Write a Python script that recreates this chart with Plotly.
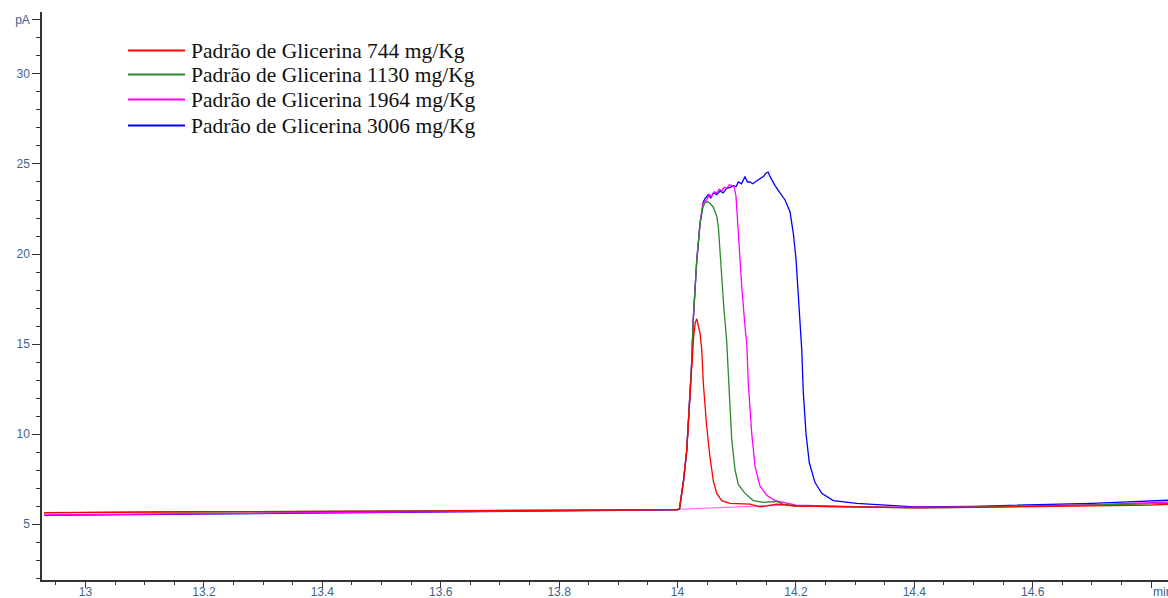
import plotly.graph_objects as go

# ---------------- data ----------------
series_names = [
    "Padrão de Glicerina 744 mg/Kg",
    "Padrão de Glicerina 1130 mg/Kg",
    "Padrão de Glicerina 1964 mg/Kg",
    "Padrão de Glicerina 3006 mg/Kg",
]
series_colors = ["#ff0000", "#2a8a2a", "#ff00ff", "#0000ff"]

red_t = [12.93, 13.0, 13.1, 13.2, 13.3, 13.4, 13.5, 13.6, 13.7, 13.8, 13.9, 13.98, 14.0,
         14.0034, 14.0101, 14.0156, 14.018, 14.021, 14.024, 14.027, 14.030, 14.0325, 14.0345,
         14.038, 14.0409, 14.0436, 14.0493, 14.0549, 14.0605, 14.0662, 14.0747, 14.0887,
         14.1225, 14.1394, 14.1676, 14.2, 14.3, 14.4, 14.5, 14.6, 14.7, 14.8, 14.83]
red_v = [5.62, 5.65, 5.66, 5.68, 5.68, 5.7, 5.72, 5.73, 5.74, 5.76, 5.78, 5.8, 5.8,
         5.85, 7.4, 9.1, 10.4, 11.9, 13.6, 15.3, 16.2, 16.4, 16.1,
         15.6, 14.7, 12.8, 10.4, 8.7, 7.4, 6.7, 6.3, 6.15,
         6.1, 5.95, 6.1, 6.0, 5.95, 5.9, 5.92, 5.95, 6.0, 6.05, 6.1]

green_t = [12.93, 13.0, 13.1, 13.2, 13.3, 13.4, 13.5, 13.6, 13.7, 13.8, 13.9, 13.98, 14.0,
           14.0034, 14.0101, 14.0156, 14.018, 14.021, 14.024, 14.0265, 14.0296, 14.0324,
           14.0351, 14.038, 14.043, 14.0465, 14.051, 14.055, 14.0605, 14.0662, 14.069,
           14.0718, 14.0747, 14.0785, 14.083, 14.0858, 14.0887, 14.0916, 14.0971, 14.1027,
           14.114, 14.128, 14.145, 14.1676, 14.178, 14.2, 14.3, 14.4, 14.5, 14.6, 14.7, 14.8, 14.83]
green_v = [5.63, 5.66, 5.67, 5.68, 5.69, 5.71, 5.72, 5.74, 5.75, 5.77, 5.78, 5.8, 5.8,
           5.85, 7.4, 9.1, 10.4, 11.9, 14.0, 16.3, 18.4, 19.6,
           20.6, 21.7, 22.6, 22.85, 22.9, 22.8, 22.6, 22.1, 21.5,
           20.05, 18.7, 16.9, 15.2, 13.7, 11.5, 9.7, 8.0, 7.2,
           6.7, 6.3, 6.2, 6.25, 6.1, 6.0, 5.95, 5.9, 5.93, 5.98, 6.05, 6.12, 6.15]

magenta_t = [12.93, 13.0, 13.1, 13.2, 13.3, 13.4, 13.5, 13.6, 13.7, 13.8, 13.9, 13.98, 14.0,
             14.0034, 14.0101, 14.0156, 14.018, 14.021, 14.024, 14.0265, 14.0296, 14.0324,
             14.0351, 14.038, 14.043, 14.0493, 14.0535, 14.0578, 14.062, 14.0662, 14.0705,
             14.0747, 14.079, 14.0831, 14.0875, 14.0916, 14.0955, 14.0988, 14.101, 14.1044,
             14.1085, 14.114, 14.117, 14.1196, 14.1253, 14.131, 14.1394, 14.1507, 14.1647,
             14.1788, 14.2, 14.3, 14.4, 14.5, 14.6, 14.7, 14.8, 14.83]
magenta_v = [5.5, 5.53, 5.56, 5.58, 5.6, 5.62, 5.65, 5.68, 5.7, 5.74, 5.77, 5.8, 5.8,
             5.85, 7.4, 9.1, 10.4, 11.9, 14.0, 16.3, 18.4, 19.6,
             20.6, 21.7, 22.8, 23.0, 23.3, 23.2, 23.45, 23.4, 23.6,
             23.5, 23.7, 23.65, 23.85, 23.8, 23.75, 23.2, 21.9, 20.05,
             18.2, 15.95, 15.0, 12.8, 10.05, 8.2, 7.1, 6.6, 6.3,
             6.2, 6.05, 5.97, 5.92, 5.95, 6.0, 6.08, 6.18, 6.22]

blue_t = [12.93, 13.0, 13.05, 13.1, 13.2, 13.3, 13.4, 13.5, 13.6, 13.7, 13.8, 13.9, 13.95, 14.0,
          14.0034, 14.0101, 14.0156, 14.018, 14.021, 14.024, 14.0265, 14.0296, 14.0324,
          14.0351, 14.038, 14.0436, 14.047, 14.052, 14.056, 14.0605, 14.066, 14.0718,
          14.077, 14.0831, 14.089, 14.0943, 14.099, 14.1027, 14.108, 14.114, 14.118,
          14.1225, 14.127, 14.1309, 14.135, 14.1394, 14.145, 14.1495, 14.153, 14.1563,
          14.1647, 14.1731, 14.1816, 14.19, 14.1956, 14.2002, 14.2041, 14.2069, 14.2098,
          14.2125, 14.2171, 14.2226, 14.2323, 14.2436, 14.2632, 14.3027, 14.3477,
          14.4, 14.5, 14.6, 14.65, 14.7, 14.75, 14.8, 14.83]
blue_v = [5.48, 5.5, 5.52, 5.53, 5.56, 5.58, 5.6, 5.63, 5.66, 5.7, 5.73, 5.76, 5.77, 5.79,
          5.85, 7.4, 9.1, 10.4, 11.9, 14.0, 16.3, 18.4, 19.6,
          20.6, 21.7, 22.9, 23.1, 23.3, 23.1, 23.4, 23.3, 23.5,
          23.4, 23.65, 23.7, 23.8, 23.75, 24.0, 23.9, 24.3, 24.0,
          24.0, 23.9, 24.0, 24.1, 24.2, 24.3, 24.5, 24.55, 24.3,
          23.8, 23.4, 23.0, 22.35, 21.15, 19.7, 17.8, 16.5, 14.7,
          12.3, 10.0, 8.4, 7.3, 6.7, 6.3, 6.15, 6.05,
          5.95, 5.98, 6.05, 6.1, 6.15, 6.22, 6.28, 6.32]

# faint integration-baseline segment drawn under the peaks
drift_t = [14.004, 14.18]
drift_v = [5.82, 6.05]

x_tick_vals = [13.0, 13.2, 13.4, 13.6, 13.8, 14.0, 14.2, 14.4, 14.6, 14.8]
x_tick_text = ["13", "13.2", "13.4", "13.6", "13.8", "14", "14.2", "14.4", "14.6", ""]
y_tick_vals = [5, 10, 15, 20, 25, 30, 33]
y_tick_text = ["5", "10", "15", "20", "25", "30", "pA"]
x_unit_label = "min"

x_range = [12.9265, 14.8285]
y_range = [1.889, 33.444]

# ---------------- figure ----------------
fig = go.Figure()

fig.add_trace(go.Scatter(x=drift_t, y=drift_v, mode="lines",
                         line=dict(color="#ff66ff", width=1.2),
                         showlegend=False, hoverinfo="skip"))

order = [3, 2, 1, 0]
data_t = [red_t, green_t, magenta_t, blue_t]
data_v = [red_v, green_v, magenta_v, blue_v]
for i in order:
    fig.add_trace(go.Scatter(
        x=data_t[i], y=data_v[i], mode="lines", name=series_names[i],
        line=dict(color=series_colors[i], width=1.3), showlegend=False))

# manual legend (long line samples like the reference)
plot_l, plot_r, plot_t, plot_b = 42, 1168, 12, 580
pw, ph = plot_r - plot_l, plot_b - plot_t
legend_rows_px = [50.5, 74.5, 99.5, 125.5]
for i, name in enumerate(series_names):
    yp = (plot_b - legend_rows_px[i]) / ph
    fig.add_shape(type="line", xref="paper", yref="paper",
                  x0=(128 - plot_l) / pw, x1=(185 - plot_l) / pw, y0=yp, y1=yp,
                  line=dict(color=series_colors[i], width=2))
    fig.add_annotation(xref="paper", yref="paper", x=(189 - plot_l) / pw, y=yp,
                       xanchor="left", yanchor="middle", showarrow=False,
                       text=name, font=dict(family="Liberation Serif", size=21.5, color="#111111"))

tick_font = dict(family="Liberation Sans", size=12, color="#41638f")

# unit label at the right end of the x axis
fig.add_annotation(xref="x", yref="paper", x=14.8, y=0, yshift=-12,
                   xanchor="left", yanchor="middle", showarrow=False,
                   text=x_unit_label, font=tick_font)

fig.update_layout(
    width=1168, height=598,
    margin=dict(l=plot_l, r=0, t=plot_t, b=598 - plot_b, autoexpand=False),
    paper_bgcolor="white", plot_bgcolor="white",
    showlegend=False,
    xaxis=dict(range=x_range, tickmode="array", tickvals=x_tick_vals, ticktext=x_tick_text,
               automargin=False, ticklabelstandoff=-6,
               showgrid=False, zeroline=False, showline=True, linecolor="#333333", linewidth=1.5,
               ticks="outside", ticklen=6, tickwidth=1.2, tickcolor="#333333",
               tickfont=tick_font,
               minor=dict(tickmode="linear", tick0=13.0, dtick=0.05, ticks="outside",
                          ticklen=3, tickwidth=1, tickcolor="#333333", showgrid=False)),
    yaxis=dict(range=y_range, tickmode="array", tickvals=y_tick_vals, ticktext=y_tick_text,
               automargin=False,
               showgrid=False, zeroline=False, showline=True, linecolor="#333333", linewidth=1.5,
               ticks="outside", ticklen=8, tickwidth=1.2, tickcolor="#333333",
               tickfont=tick_font,
               minor=dict(tickmode="linear", tick0=0, dtick=1, ticks="outside",
                          ticklen=4, tickwidth=1, tickcolor="#333333", showgrid=False)),
)

fig.write_html("out.html")
